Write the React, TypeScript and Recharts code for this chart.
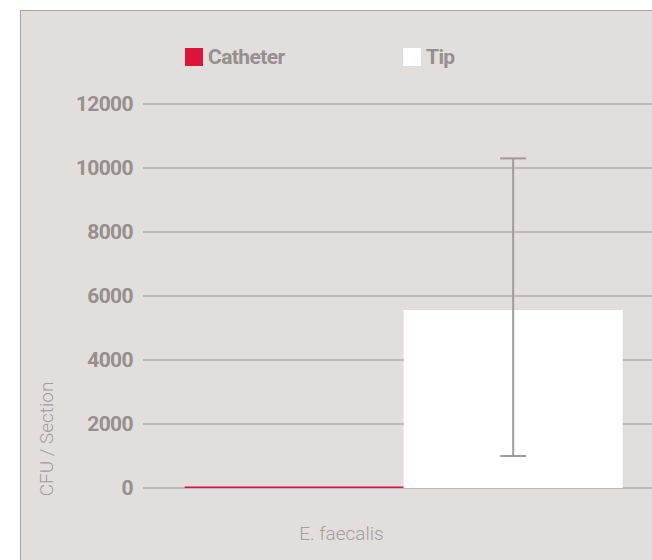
import { BarChart, Bar, XAxis, YAxis, CartesianGrid, ErrorBar, Label } from "recharts";

const CATEGORIES = ["E. faecalis"];
const CATHETER = [50];
const TIP = [5560];
const TIP_ERR: [number, number][] = [[4560, 4740]];
const Y_TICKS = [0, 2000, 4000, 6000, 8000, 10000, 12000];

const SERIES = [
  { key: "catheter", name: "Catheter", color: "#dc143c" },
  { key: "tip", name: "Tip", color: "#ffffff" },
];

const FONT = "Roboto, 'Noto Sans', sans-serif";
const GREY = "#958f8f";

const data = CATEGORIES.map((name, i) => ({
  name,
  catheter: CATHETER[i],
  tip: TIP[i],
  tipErr: TIP_ERR[i],
}));

function CategoryTick({ x, y, payload }: { x?: number; y?: number; payload?: { value: string } }) {
  return (
    <text x={(x ?? 0) - 62} y={(y ?? 0) + 37} dy="0.35em" textAnchor="middle"
      fill="#a39d9d" fontSize={19} fontWeight={300} fontFamily={FONT}>
      {payload?.value}
    </text>
  );
}

export default function App() {
  return (
    <div style={{ position: "absolute", left: 0, top: 0, width: 652, height: 560, overflow: "hidden", background: "#fff" }}>
      <div style={{
        position: "absolute", left: 20, top: 10, width: 700, height: 600,
        background: "#e2dedc", borderLeft: "1.5px solid #a8a2a2", borderTop: "1.5px solid #a8a2a2",
      }} />
      {/* legend */}
      <div style={{ position: "absolute", left: 185, top: 45, display: "flex", fontFamily: FONT }}>
        {SERIES.map((s) => (
          <div key={s.key} style={{ width: 218, display: "flex", alignItems: "center" }}>
            <span style={{ width: 18, height: 18, background: s.color, display: "inline-block", marginRight: 5 }} />
            <span style={{ fontSize: 21, fontWeight: 700, color: GREY, letterSpacing: -0.6 }}>{s.name}</span>
          </div>
        ))}
      </div>
      <div style={{ position: "absolute", left: 0, top: 0 }}>
        <BarChart width={700} height={560} data={data}
          margin={{ top: 104, right: 36, left: 0, bottom: 0 }}
          barCategoryGap="8%" barGap={0}>
          <CartesianGrid vertical={false} stroke="#9a9494" strokeWidth={1.2} />
          <XAxis dataKey="name" axisLine={false} tickLine={false} tick={<CategoryTick />} height={72} />
          <YAxis width={143} domain={[0, 12000]} ticks={Y_TICKS} axisLine={false} tickLine={false}
            tickSize={0} tickMargin={10}
            tick={{ fill: GREY, fontSize: 21, fontWeight: 700, fontFamily: FONT, letterSpacing: -0.6 }}>
            <Label content={({ viewBox }: any) => {
              const cx = 48;
              const cy = viewBox.y + viewBox.height - 49;
              return (
                <text x={cx} y={cy} transform={`rotate(-90 ${cx} ${cy})`} textAnchor="middle"
                  dominantBaseline="middle" fill="#a39d9d" fontSize={19} fontWeight={300} fontFamily={FONT}>
                  CFU / Section
                </text>
              );
            }} />
          </YAxis>
          <Bar dataKey="catheter" name="Catheter" fill={SERIES[0].color} isAnimationActive={false} />
          <Bar dataKey="tip" name="Tip" fill={SERIES[1].color} isAnimationActive={false}>
            <ErrorBar dataKey="tipErr" width={13} stroke="#a09a9a" strokeWidth={2} />
          </Bar>
        </BarChart>
      </div>
    </div>
  );
}
